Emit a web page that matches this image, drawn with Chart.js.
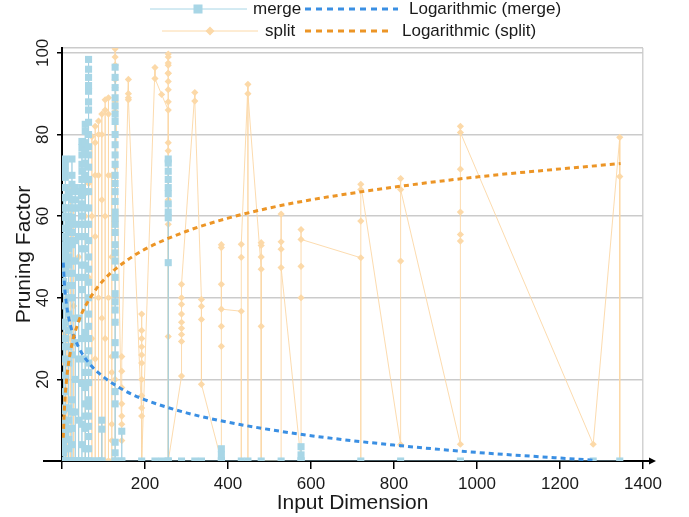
<!DOCTYPE html>
<html>
<head>
<meta charset="utf-8">
<title>Pruning Factor vs Input Dimension</title>
<script src="https://cdn.jsdelivr.net/npm/chart.js@4.4.1/dist/chart.umd.min.js"></script>
<style>
  html, body { margin: 0; padding: 0; background: #fff; }
  #wrap { width: 689px; height: 517px; }
</style>
</head>
<body>
<div id="wrap"><canvas id="chart" width="689" height="517"></canvas></div>
<script>
// tick labels
const xTicks = [200, 400, 600, 800, 1000, 1200, 1400];
const yTicks = [20, 40, 60, 80, 100];

// merge: input dimensions and the pruning factors measured at each one
const mergeX = [4, 8, 16, 24, 32, 40, 48, 56, 64, 72, 80, 88, 96, 128, 144, 192, 224, 240, 256,
  288, 320, 336, 384, 432, 448, 480, 528, 576, 720, 816, 960, 1280, 1344];
const mergeY = [
  [0, 2, 4, 5.5, 7.8, 10, 12.5, 28, 30, 33, 44, 46, 48, 50, 52, 55, 57, 60, 62, 64.5, 0],
  [0, 3, 6.5, 9, 13, 17, 21, 25, 30, 34, 38, 42, 47, 49, 51.4, 53, 54.8, 57, 59.7, 62, 64.6, 67, 69.5, 71, 72.5, 74, 0],
  [0, 3, 5.3, 7.8, 10, 13, 24, 28, 32, 36, 40, 43, 46, 48, 50, 52, 54, 56.3, 58, 60, 62, 65.3, 0],
  [0, 4, 8, 12, 15, 26, 40, 43, 46, 49, 53, 56, 59.7, 62, 64, 66, 67.8, 70, 74, 0],
  [0, 12, 20, 29, 35, 49, 54, 58, 62, 64, 67, 0],
  [0, 10, 25, 35, 45, 55, 62, 66, 0],
  [0, 4, 9, 19, 30, 42, 48, 52, 55, 58, 60, 63, 65, 67, 69, 71, 72.7, 75, 76.8, 78.3, 0],
  [0, 3, 8, 11, 14, 18, 21.7, 25, 31.5, 45, 48, 52, 55, 58, 62, 66, 70, 73, 76, 78, 80.8, 82.5, 0],
  [0, 3, 6, 8.5, 11, 13.4, 15, 19.2, 21.7, 24, 27, 30, 33, 36, 40, 43.8, 47, 50, 54, 58, 62, 66, 69, 72, 75, 77, 80, 83, 86, 88, 90.6, 92, 94, 96, 98.4, 0],
  [0], [0], [0],
  [0, 7.8, 10, 0],
  [0, 2, 4.6, 14, 17, 26, 29, 34, 37, 39, 41, 45, 49, 51, 53, 56, 58, 59.5, 61, 63.6, 66, 68, 70, 72.7, 75, 77.5, 80, 83.2, 85, 87, 89, 91.5, 94, 96.5, 0],
  [0, 7.3, 0],
  [0], [0], [0],
  [0, 48.6, 59.6, 61, 63, 65.5, 67, 69, 71, 73, 74, 0],
  [0], [0], [0],
  [0, 1.5, 3, 0],
  [0], [0], [0], [0],
  [0, 1.5, 3.5, 0],
  [0], [0], [0], [0], [0]
];

// split
const splitX = [4, 12, 20, 28, 40, 56, 64, 72, 80, 88, 96, 104, 112, 120, 128, 144, 160, 192,
  224, 240, 256, 288, 320, 336, 384, 432, 448, 480, 528, 576, 720, 816, 960, 1280, 1344];
const splitY = [
  [0, 12, 24, 31, 0],
  [0, 15, 40, 0],
  [0, 30, 58, 67, 0],
  [0, 38, 62, 0],
  [0, 50, 66, 0],
  [0, 30, 60, 65.6, 70, 0],
  [0, 45, 68, 0],
  [0, 30, 60, 79.5, 0],
  [0, 25, 55, 70, 78, 82, 0],
  [0, 40, 70, 80, 83.3, 0],
  [0, 35, 64, 80, 85, 0],
  [0, 30, 60, 86, 88.5, 0],
  [0, 40, 70, 85, 89, 0],
  [0, 5, 9, 21.7, 25.6, 50, 70, 0],
  [0, 20, 34, 45, 60, 72, 80, 85.7, 88, 91.5, 93.5, 97, 99, 101],
  [5, 9, 11, 14, 18, 22, 25.6],
  [93.5, 90, 89, 88.5],
  [11, 13, 16, 20, 24, 26, 28, 30, 32, 36, 0],
  [96.4, 93.7],
  [89.8],
  [86, 88, 91, 93, 95, 97, 99, 99.7, 97.5, 95, 78, 76, 64, 58, 30.5, 0],
  [20.8, 29.3, 31, 32.5, 34, 36, 38.4, 40, 43.3],
  [90.3, 88.2],
  [39.6, 37.9, 34.7, 18.8],
  [0, 28.1, 33, 43.3, 52.3, 53, 37.2],
  [36.7, 0, 49.9, 53.1],
  [92.3, 0, 90],
  [47, 50, 52.8, 53.5, 33, 0],
  [0, 60.5, 53.7, 51.9, 47.4],
  [0, 40, 47.7, 56.7, 54.3],
  [49.8, 0, 58.8, 66.5, 67.8],
  [4, 49, 69.2, 66.5],
  [4.1, 53.9, 55.5, 61, 71.5, 82, 80.5],
  [4.1],
  [79.3, 69.7, 0]
];

// logarithmic trend lines
const mergeTrendX = [3, 6, 10, 20, 40, 70, 100, 150, 200, 300, 400, 500, 600, 800, 1000, 1280];
const mergeTrendY = [48.6, 43.1, 39, 33.4, 27.9, 23.4, 20.6, 17.3, 15, 11.8, 9.5, 7.7, 6.2, 3.9, 2.1, 0.2];
const splitTrendX = [3, 6, 10, 20, 40, 70, 100, 150, 200, 300, 400, 500, 600, 800, 1000, 1346];
const splitTrendY = [5.7, 13.3, 18.9, 26.6, 34.2, 40.3, 44.3, 48.7, 51.9, 56.3, 59.5, 62, 64, 67.1, 69.6, 72.9];

const colMerge = '#a8d6e6';
const colSplit = '#fcd9a8';
const colMergeTrend = '#3a8fe3';
const colSplitTrend = '#ec9526';
const textCol = '#1a1a1a';

const toPoints = (xs, ys) => xs.flatMap((x, i) => ys[i].map(y => ({ x: x, y: y })));
const pairPoints = (xs, ys) => xs.map((x, i) => ({ x: x, y: ys[i] }));

Chart.defaults.font.family = '"Liberation Sans", Arial, sans-serif';
Chart.defaults.color = textCol;

// legend in two rows + axis arrow
const extras = {
  id: 'extras',
  afterDraw(chart) {
    const ctx = chart.ctx;
    const ds = chart.data.datasets;
    ctx.save();
    // x axis extension + arrow
    const yb = chart.scales.y.getPixelForValue(0);
    ctx.strokeStyle = '#000';
    ctx.lineWidth = 2;
    ctx.beginPath();
    ctx.moveTo(43, yb); ctx.lineTo(chart.chartArea.left, yb);
    ctx.moveTo(chart.chartArea.right, yb); ctx.lineTo(652, yb);
    ctx.stroke();
    ctx.fillStyle = '#000';
    ctx.beginPath();
    ctx.moveTo(656, yb); ctx.lineTo(649, yb - 3.5); ctx.lineTo(649, yb + 3.5); ctx.closePath();
    ctx.fill();

    ctx.font = '17px "Liberation Sans", Arial, sans-serif';
    ctx.textBaseline = 'middle';
    ctx.textAlign = 'left';
    // row 1: merge
    let y = 9;
    ctx.strokeStyle = colMerge; ctx.lineWidth = 1;
    ctx.beginPath(); ctx.moveTo(150, y); ctx.lineTo(247, y); ctx.stroke();
    ctx.fillStyle = colMerge; ctx.fillRect(193.5, y - 4.5, 9, 9);
    ctx.fillStyle = textCol; ctx.fillText(ds[0].label, 253, y);
    ctx.strokeStyle = colMergeTrend; ctx.lineWidth = 3; ctx.setLineDash([6, 5]);
    ctx.beginPath(); ctx.moveTo(305, y); ctx.lineTo(398, y); ctx.stroke();
    ctx.setLineDash([]);
    ctx.fillText(ds[1].label, 409, y);
    // row 2: split
    y = 31;
    ctx.strokeStyle = colSplit; ctx.lineWidth = 1;
    ctx.beginPath(); ctx.moveTo(162, y); ctx.lineTo(258, y); ctx.stroke();
    ctx.fillStyle = colSplit;
    ctx.beginPath(); ctx.moveTo(210, y - 4.5); ctx.lineTo(214.5, y); ctx.lineTo(210, y + 4.5); ctx.lineTo(205.5, y); ctx.closePath(); ctx.fill();
    ctx.fillStyle = textCol; ctx.fillText(ds[2].label, 265, y);
    ctx.strokeStyle = colSplitTrend; ctx.lineWidth = 3; ctx.setLineDash([6, 5]);
    ctx.beginPath(); ctx.moveTo(305, y); ctx.lineTo(390, y); ctx.stroke();
    ctx.setLineDash([]);
    ctx.fillText(ds[3].label, 402, y);
    ctx.restore();
  }
};

new Chart(document.getElementById('chart'), {
  type: 'scatter',
  data: {
    datasets: [
      {
        label: 'merge',
        data: toPoints(mergeX, mergeY),
        showLine: true,
        borderColor: 'rgba(160,208,226,0.85)',
        borderWidth: 1,
        backgroundColor: colMerge,
        pointStyle: 'rect',
        pointRadius: 5,
        pointBorderWidth: 0,
        order: 2
      },
      {
        label: 'Logarithmic (merge)',
        data: pairPoints(mergeTrendX, mergeTrendY),
        showLine: true,
        borderColor: colMergeTrend,
        borderWidth: 3,
        borderDash: [5, 4],
        pointRadius: 0,
        cubicInterpolationMode: 'monotone',
        order: 1
      },
      {
        label: 'split',
        data: toPoints(splitX, splitY),
        showLine: true,
        borderColor: 'rgba(252,215,165,0.9)',
        borderWidth: 1,
        backgroundColor: colSplit,
        pointStyle: 'rectRot',
        pointRadius: 3.6,
        pointBorderWidth: 0,
        order: 3
      },
      {
        label: 'Logarithmic (split)',
        data: pairPoints(splitTrendX, splitTrendY),
        showLine: true,
        borderColor: colSplitTrend,
        borderWidth: 3,
        borderDash: [5, 4],
        pointRadius: 0,
        cubicInterpolationMode: 'monotone',
        order: 0
      }
    ]
  },
  options: {
    responsive: false,
    animation: false,
    layout: { padding: { top: 48, right: 46, left: 0, bottom: 0 } },
    plugins: {
      legend: { display: false },
      tooltip: { enabled: false }
    },
    scales: {
      x: {
        type: 'linear',
        min: 0,
        max: 1400,
        afterBuildTicks: s => { s.ticks = [0].concat(xTicks).map(v => ({ value: v })); },
        afterFit: s => { s.height = 56; },
        border: { color: '#000', width: 2 },
        grid: {
          color: c => (c.tick && c.tick.value === 1400) ? '#d2d2d2' : 'rgba(0,0,0,0)',
          lineWidth: 1.5,
          tickLength: 8,
          tickColor: '#000',
          tickWidth: 1.5
        },
        ticks: {
          padding: 5,
          maxRotation: 0,
          font: { size: 17 },
          color: textCol,
          callback: v => xTicks.includes(v) ? String(v) : ''
        },
        title: {
          display: true,
          text: 'Input Dimension',
          font: { size: 21 },
          color: textCol,
          padding: { top: 0, bottom: 1 }
        }
      },
      y: {
        min: 0,
        max: 101.2,
        afterBuildTicks: s => { s.ticks = [0].concat(yTicks, [101.2]).map(v => ({ value: v })); },
        afterFit: s => { s.width = 62; },
        border: { color: '#000', width: 2 },
        grid: {
          color: c => (c.tick && c.tick.value === 0) ? 'rgba(0,0,0,0)' : '#cbcbcb',
          lineWidth: 1.5,
          tickLength: 5,
          tickColor: c => (c.tick && yTicks.includes(c.tick.value)) ? '#000' : 'rgba(0,0,0,0)',
          tickWidth: 1.5
        },
        ticks: {
          minRotation: 90,
          maxRotation: 90,
          crossAlign: 'center',
          padding: 0,
          font: { size: 17 },
          color: textCol,
          callback: v => yTicks.includes(v) ? String(v) : ''
        },
        title: {
          display: true,
          text: 'Pruning Factor',
          font: { size: 21 },
          color: textCol,
          padding: { top: 12, bottom: 0 }
        }
      }
    }
  },
  plugins: [extras]
});
</script>
</body>
</html>
